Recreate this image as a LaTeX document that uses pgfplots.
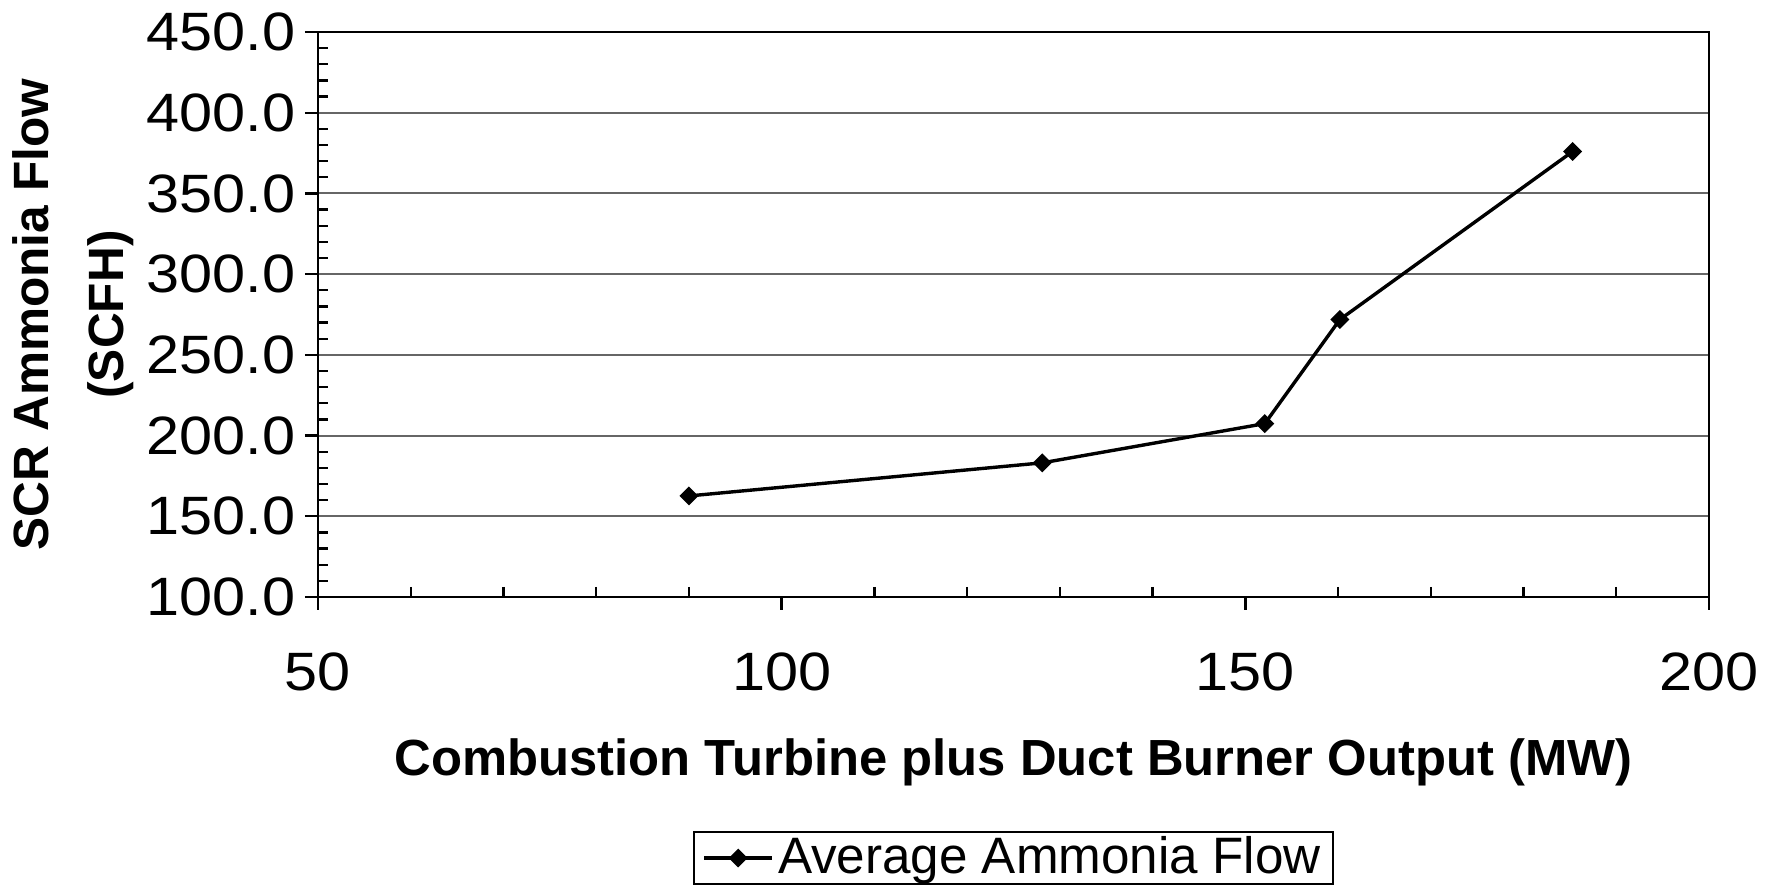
\documentclass[border=0pt]{standalone}
\usepackage{fontspec}
\setmainfont{Liberation Sans}
\newfontfamily\tickfont[FakeStretch=1.1]{Liberation Sans}
\usepackage{pgfplots}
\pgfplotsset{compat=1.18}
\begin{document}
\begin{tikzpicture}
\begin{axis}[
  at={(79.5pt,72.75pt)}, anchor=south west,
  scale only axis, width=347.75pt, height=141.25pt,
  xmin=50, xmax=200, ymin=100, ymax=450,
  xtick={50,100,150,200}, ytick={100,150,...,450},
  xtick pos=bottom, ytick pos=left,
  minor x tick num=4, minor y tick num=4,
  tick align=outside, major tick length=3.25pt, minor tick length=-2.5pt,
  ymajorgrids, major grid style={line width=0.5pt, black!60},
  axis line style={line width=0.7pt},
  tick style={black, line width=0.6pt},
  /pgf/number format/assume math mode=true,
  ticklabel style={font=\tickfont\fontsize{13.5}{15}\selectfont},
  yticklabel style={/pgf/number format/.cd, fixed, fixed zerofill, precision=1, /tikz/.cd, inner xsep=0pt, xshift=-2.25pt},
  xticklabel style={inner ysep=0pt, yshift=-10.5pt},
  xlabel={Combustion Turbine plus Duct Burner Output (MW)},
  xlabel style={font=\bfseries\fontsize{12.7}{15}\selectfont, at={(axis description cs:0.5,-0.292)}, anchor=center},
  ylabel={SCR Ammonia Flow\\(SCFH)},
  ylabel style={font=\bfseries\fontsize{12.4}{18.75}\selectfont, align=center, at={(axis description cs:-0.1757,0.5)}, anchor=center},
  legend style={at={(axis description cs:0.5,-0.462)}, anchor=center, draw=black, line width=0.5pt, font=\fontsize{12.8}{15}\selectfont, inner xsep=2pt, inner ysep=0pt, nodes={inner sep=1pt}},
]
\addplot[black, line width=0.85pt, mark=square*, mark size=1.25pt, mark options={rotate=45, solid}]
  coordinates {(90.0,162.6) (128.1,183.1) (152.1,207.4) (160.2,271.9) (185.3,376.0)};
\addlegendentry{Average Ammonia Flow}
\end{axis}
\pgfresetboundingbox
\useasboundingbox (0,0) rectangle (442.75pt,222pt);
\end{tikzpicture}
\end{document}
